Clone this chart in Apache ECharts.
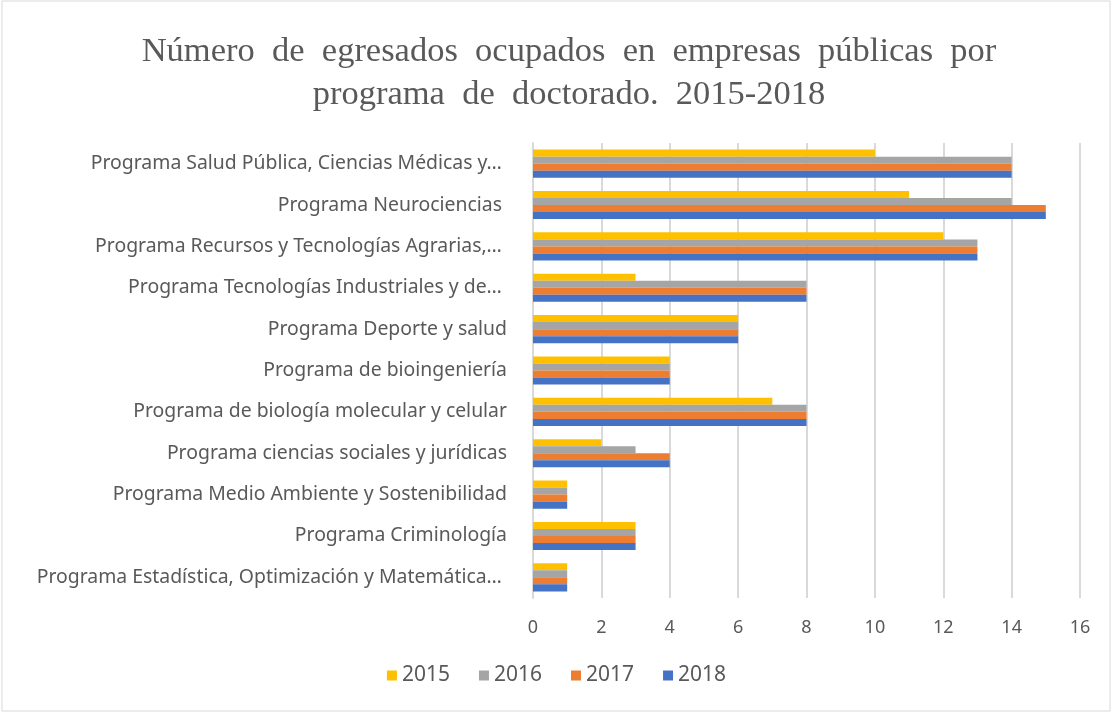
<!DOCTYPE html>
<html>
<head>
<meta charset="utf-8">
<script src="https://cdn.jsdelivr.net/npm/echarts@6/dist/echarts.min.js"></script>
<style>
html,body{margin:0;padding:0;background:#fff;}
#main{width:1113px;height:713px;}
</style>
</head>
<body>
<div id="main"></div>
<script>
// categorias (de arriba a abajo)
var programas = [
    'Programa Salud Pública, Ciencias Médicas y… ',
    'Programa Neurociencias ',
    'Programa Recursos y Tecnologías Agrarias,… ',
    'Programa Tecnologías Industriales y de… ',
    'Programa Deporte y salud',
    'Programa de bioingeniería',
    'Programa de biología molecular y celular',
    'Programa ciencias sociales y jurídicas',
    'Programa Medio Ambiente y Sostenibilidad',
    'Programa Criminología',
    'Programa Estadística, Optimización y Matemática… '
];
var anios = ['2015', '2016', '2017', '2018'];
var datos2015 = [10, 11, 12, 3, 6, 4, 7, 2, 1, 3, 1];
var datos2016 = [14, 14, 13, 8, 6, 4, 8, 3, 1, 3, 1];
var datos2017 = [14, 15, 13, 8, 6, 4, 8, 4, 1, 3, 1];
var datos2018 = [14, 15, 13, 8, 6, 4, 8, 4, 1, 3, 1];
var colores = ['#FFC000', '#A5A5A5', '#ED7D31', '#4472C4'];

var dom = document.getElementById('main');
var myChart = echarts.init(dom);

var series = [datos2015, datos2016, datos2017, datos2018].map(function (d, i) {
    return {
        name: anios[i],
        type: 'bar',
        data: d,
        barGap: '0%',
        barCategoryGap: '32%',
        itemStyle: { color: colores[i] }
    };
});

var option = {
    animation: false,
    title: {
        // el original tiene el título justificado, de ahí los espacios dobles
        text: 'Número  de  egresados  ocupados  en  empresas  públicas  por\nprograma  de  doctorado.  2015-2018',
        left: 564,
        textAlign: 'center',
        top: 25,
        textStyle: {
            fontFamily: 'Liberation Serif',
            fontWeight: 'normal',
            fontSize: 34.5,
            lineHeight: 43,
            color: '#595959'
        }
    },
    legend: {
        data: anios,
        bottom: 22,
        left: 'center',
        icon: 'rect',
        itemWidth: 10,
        itemHeight: 10,
        itemGap: 29,
        textStyle: { fontFamily: 'Noto Sans', fontSize: 21, color: '#595959' }
    },
    grid: { left: 533, right: 33, top: 143, bottom: 115, containLabel: false },
    xAxis: {
        type: 'value',
        min: 0,
        max: 16,
        interval: 2,
        axisLine: { show: false },
        axisTick: { show: false },
        axisLabel: { fontFamily: 'Noto Sans', fontSize: 18, color: '#595959', margin: 21 },
        splitLine: { lineStyle: { color: '#d9d9d9', width: 2 } }
    },
    yAxis: {
        type: 'category',
        data: programas,
        inverse: true,
        axisLine: { lineStyle: { color: '#d9d9d9', width: 2 } },
        axisTick: { show: false },
        axisLabel: { fontFamily: 'Noto Sans', fontSize: 19.4, color: '#595959', margin: 26 }
    },
    graphic: [{
        type: 'rect',
        shape: { x: 2, y: 1, width: 1108, height: 710 },
        style: { fill: 'none', stroke: '#d9d9d9', lineWidth: 1 }
    }],
    series: series
};

if (option && typeof option === 'object') {
    myChart.setOption(option, true);
}
</script>
</body>
</html>
